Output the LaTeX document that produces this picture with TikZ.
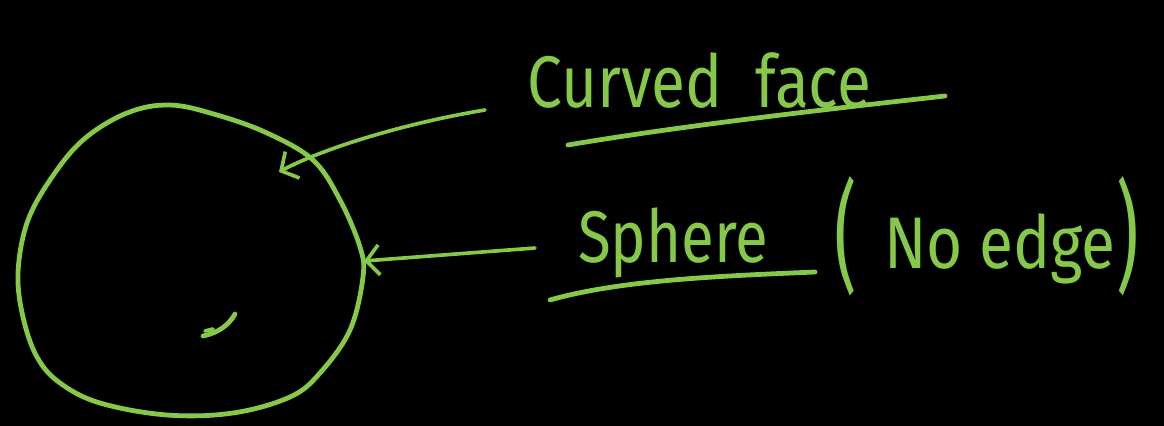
\documentclass[tikz,border=0pt]{standalone}
\usepackage{fontspec}
\setmainfont{Fira Sans}
\usetikzlibrary{arrows.meta}
\definecolor{chalk}{RGB}{134,200,72}
\tikzset{
  ink/.style={draw=chalk, line width=3.4pt, line cap=round, line join=round},
  thin ink/.style={draw=chalk, line width=2.6pt, line cap=round, line join=round},
  pointer/.style={thin ink, -{Straight Barb[length=3.2mm,width=7.5mm]}},
  hand/.style={text=chalk, inner sep=0pt, font=\fontsize{52}{60}\selectfont}
}
\begin{document}
\begin{tikzpicture}[x=0.025cm,y=-0.025cm]
\fill[black] (0,0) rectangle (1164,426);
\useasboundingbox (0,0) rectangle (1164,426);
% sphere outline
\draw[ink] plot[smooth cycle, tension=0.6] coordinates {
 (170,105) (217,115) (267,133) (313,160) (340,200) (360,247) (363,277)
 (350,330) (320,373) (290,397) (233,413) (167,415) (100,403) (60,383)
 (37,357) (23,317) (18,273) (27,223) (50,180) (83,140) (127,113)};
% small tick inside
\draw[ink] (203,336) .. controls (218,333) and (229,325) .. (235,314);
\draw[thin ink] (205,331) -- (213,329);
% labels
\node[hand, anchor=base west] (curved) at (527,108) {\scalebox{0.85}[1]{Curved\ \ face}};
\node[hand, anchor=base west] (sphere) at (578,262) {\scalebox{0.82}[1]{Sphere}};
\node[hand, anchor=base west] (lp) at (834,278) {\scalebox{0.95}[1.65]{(}};
\node[hand, anchor=base west] (noedge) at (884,268) {\scalebox{0.85}[1]{No\ edge}};
\node[hand, anchor=base west] (rp) at (1116,278) {\scalebox{0.95}[1.65]{)}};
% underlines
\coordinate (u1a) at (568,145); \coordinate (u1b) at (945,96);
\draw[ink] (u1a) .. controls (680,126) and (820,110) .. (u1b);
\coordinate (u2a) at (550,300); \coordinate (u2b) at (815,272);
\draw[ink] (u2a) .. controls (620,280) and (720,276) .. (u2b);
% arrows
\coordinate (a1s) at (485,110); \coordinate (a1t) at (279,172);
\draw[pointer] (a1s) .. controls (400,124) and (320,150) .. (a1t);
\coordinate (a2s) at (535,248); \coordinate (a2t) at (364,261);
\draw[pointer] (a2s) -- (a2t);
\end{tikzpicture}
\end{document}
